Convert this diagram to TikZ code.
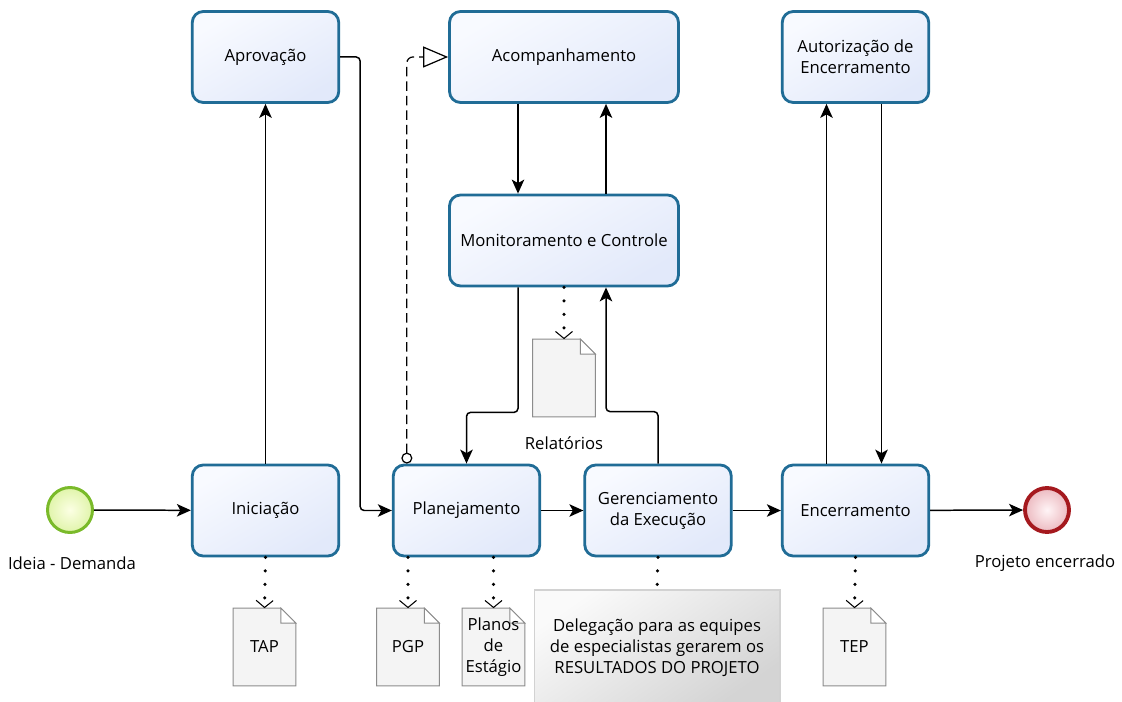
\documentclass[tikz,border=0pt]{standalone}
\usepackage{fontspec}
\setmainfont{Open Sans}
\usetikzlibrary{arrows.meta,calc,backgrounds}
\definecolor{taskline}{RGB}{32,108,150}
\definecolor{tasktop}{RGB}{248,250,255}
\definecolor{taskbot}{RGB}{226,233,250}
\definecolor{startline}{RGB}{122,186,42}
\definecolor{startin}{RGB}{252,255,228}
\definecolor{startout}{RGB}{224,244,170}
\definecolor{endline}{RGB}{165,25,30}
\definecolor{endin}{RGB}{255,244,246}
\definecolor{endout}{RGB}{236,186,192}
\definecolor{docgray}{RGB}{140,140,140}
\definecolor{docfill}{RGB}{244,244,244}
\tikzset{
 task/.style={draw=taskline,line width=1.6pt,rounded corners=0.22cm,minimum width=2.93cm,
  minimum height=1.82cm,inner sep=1pt,align=center,shading=axis,top color=tasktop,
  bottom color=taskbot,shading angle=30},
 widetask/.style={task,minimum width=4.58cm},
 startev/.style={circle,draw=startline,line width=1.7pt,minimum size=0.9cm,inner color=startin,outer color=startout},
 endev/.style={circle,draw=endline,line width=2.2pt,minimum size=0.88cm,inner color=endin,outer color=endout},
 doc/.style={minimum width=1.24cm,minimum height=1.54cm,inner sep=1pt,align=center},
 docshape/.style={draw=docgray,line width=0.6pt,fill=docfill},
 docfold/.style={draw=docgray,line width=0.5pt,fill=white},
 note/.style={draw=gray!35,line width=0.6pt,minimum width=4.92cm,minimum height=2.3cm,align=center,
  shading=axis,top color=gray!4,bottom color=gray!34,shading angle=35},
 flow/.style={line width=0.85pt,rounded corners=0.08cm,-{Stealth[length=0.28cm,width=0.25cm,inset=0.07cm]}},
 dots/.style={line width=2pt,line cap=round,dash pattern=on 0pt off 0.27cm},
 assoc/.style={dots,-{Straight Barb[length=0.14cm,width=0.34cm,line width=0.6pt]}},
 msgflow/.style={line width=0.7pt,rounded corners=0.12cm,dash pattern=on 0.19cm off 0.1cm,
  {Circle[open,length=0.22cm,fill=white]}-{Triangle[open,length=0.5cm,width=0.42cm,fill=white]}}
}
\begin{document}
\begin{tikzpicture}[x=0.02cm,y=-0.02cm,font=\fontsize{9.5}{12}\selectfont]
\useasboundingbox (0,0) rectangle (1122,702);
\node[startev] (ideia) at (70,510) {};
\node at (72,563) (ideialbl) {Ideia - Demanda};
\node[task] (inic) at (265.5,510.5) {Iniciação};
\node[task] (aprov) at (265.5,57) {Aprovação};
\node[task] (plan) at (466.5,510.5) {Planejamento};
\node[widetask] (acomp) at (564,57) {Acompanhamento};
\node[widetask] (mon) at (564,240.5) {Monitoramento e Controle};
\node[task] (ger) at (658,510.5) {Gerenciamento\\da Execução};
\node[task] (enc) at (855.5,510.5) {Encerramento};
\node[task] (autor) at (855.5,57) {Autorização de\\Encerramento};
\node[endev] (fim) at (1047,510) {};
\node at (1045,563) (fimlbl) {Projeto encerrado};
\node[doc] (tap) at (264.5,647) {TAP};
\node[doc] (pgp) at (408,647) {PGP};
\node[doc] (planos) at (493.5,647) {Planos\\de\\Estágio};
\node[doc] (tep) at (854.5,647) {TEP};
\node[doc] (rel) at (564,378) {};
\node at (564,443) (rellbl) {Relatórios};
\node[note] (nota) at (657,647.5) {Delegação para as equipes\\de especialistas gerarem os\\RESULTADOS DO PROJETO};
\begin{pgfonlayer}{background}
\foreach \d in {tap,pgp,planos,tep,rel}{
 \draw[docshape] (\d.north west) -- ($(\d.north east)+(-15,0)$) -- ($(\d.north east)+(0,15)$)
  -- (\d.south east) -- (\d.south west) -- cycle;
 \draw[docfold] ($(\d.north east)+(-15,0)$) -- ($(\d.north east)+(-15,15)$) -- ($(\d.north east)+(0,15)$) -- cycle;
}
\end{pgfonlayer}
\draw[flow] (ideia) -- (inic);
\draw[flow] (inic) -- (aprov);
\draw[flow] (aprov.east) -- ++(20,0) |- (plan.west);
\draw[flow] (plan) -- (ger);
\draw[flow] (ger) -- (enc);
\draw[flow] (enc) -- (fim);
\draw[flow] ($(acomp.south)+(-46,0)$) -- ($(mon.north)+(-46,0)$);
\draw[flow] ($(mon.north)+(42,0)$) -- ($(acomp.south)+(42,0)$);
\draw[flow] ($(mon.south)+(-46,0)$) -- ++(0,125) -| (plan.north);
\draw[flow] (ger.north) -- ++(0,-52) -| ($(mon.south)+(42,0)$);
\draw[flow] ($(enc.north)+(-29,0)$) -- ($(autor.south)+(-29,0)$);
\draw[flow] ($(autor.south)+(26,0)$) -- ($(enc.north)+(26,0)$);
\draw[msgflow] ($(plan.north west)+(15,0)$) |- (acomp.west);
\draw[assoc] (inic.south) -- (tap.north);
\draw[assoc] (pgp.north |- plan.south) -- (pgp.north);
\draw[assoc] (planos.north |- plan.south) -- (planos.north);
\draw[assoc] (mon.south) -- (rel.north);
\draw[assoc] (enc.south) -- (tep.north);
\draw[dots] (ger.south) -- (nota.north);
\end{tikzpicture}
\end{document}
